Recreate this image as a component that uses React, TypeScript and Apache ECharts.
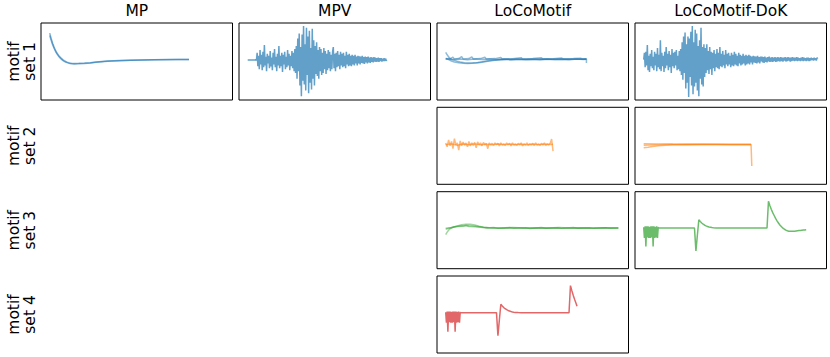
import React, { useEffect, useRef } from "react";
import * as echarts from "echarts";

const columnTitles = ["MP", "MPV", "LoCoMotif", "LoCoMotif-DoK"];
const rowLabels = ["motif\nset 1", "motif\nset 2", "motif\nset 3", "motif\nset 4"];

// ---- motif set 1 ----
const mpA = [[0,2.95],[1,2.4],[2,1.9],[3,1.5],[4,1.15],[5,0.88],[6,0.66],[7,0.48],[8,0.33],[9,0.2],[10,0.09],[11,0.0],[12,-0.07],[13,-0.12],[14,-0.16],[15,-0.19],[17,-0.2],[20,-0.19],[24,-0.16],[28,-0.12],[32,-0.06],[36,0.0],[40,0.05],[48,0.1],[56,0.14],[64,0.16],[72,0.18],[80,0.2],[88,0.21],[96,0.22]];
const mpB = [[0,2.7],[1,2.2],[2,1.75],[3,1.38],[4,1.06],[5,0.8],[6,0.58],[7,0.4],[8,0.25],[9,0.12],[10,0.02],[11,-0.06],[12,-0.12],[13,-0.17],[14,-0.21],[15,-0.23],[17,-0.25],[20,-0.24],[24,-0.2],[28,-0.15],[32,-0.09],[36,-0.03],[40,0.02],[48,0.08],[56,0.12],[64,0.15],[72,0.17],[80,0.18],[88,0.2],[96,0.2]];

// sampled every half step
const mpv = [
  0.15,0.15,0.15,0.15,0.15,0.15,0.15,0.15,0.15,0.15,0.15,0.2,0.1,
  0.9,-0.5,0.6,-0.8,1.2,-0.3,0.7,-0.9,1.0,-0.6,
  1.7,-0.4,0.5,-1.0,0.8,-0.2,0.6,-0.7,1.1,-0.5,
  0.4,-0.9,0.9,-0.3,1.3,-0.6,0.5,-1.0,0.8,-0.4,
  1.6,-0.7,0.6,-0.5,0.9,-1.1,0.7,-0.3,1.0,-0.8,
  0.5,-0.6,1.2,-0.4,0.8,-0.9,0.6,-0.5,1.1,-0.7,
  0.9,-1.0,1.3,
  -1.2,1.6,-1.8,2.4,-1.0,2.9,-2.5,1.5,-3.6,2.8,
  -2.0,3.7,-2.4,1.8,-3.0,3.5,-1.4,2.6,-3.3,3.2,
  -2.2,1.4,-2.9,3.4,-1.8,2.2,-2.5,1.6,-1.3,2.0,
  -1.5,1.2,-1.8,1.5,-1.0,1.3,-1.4,0.9,-1.2,1.4,
  -0.8,1.1,-1.3,0.8,-0.9,1.2,-0.7,1.0,-1.0,0.7,
  -0.8,1.0,
  1.5,-0.7,0.8,-1.0,0.9,-0.6,1.1,-0.5,0.7,-0.8,
  1.0,-0.4,0.8,-0.6,0.9,-0.5,0.6,-0.7,1.0,-0.3,
  0.7,-0.5,0.8,-0.4,0.6,-0.5,0.7,-0.3,0.6,-0.4,
  0.7,-0.2,0.5,-0.4,0.6,-0.2,0.55,-0.3,0.5,-0.15,
  0.6,-0.2,0.45,-0.25,0.5,-0.1,0.45,-0.2,0.5,-0.1,
  0.4,-0.15,0.45,-0.05,0.4,-0.1,0.45,0.0,0.4,-0.05,
  0.35,0.0,0.4,-0.05,0.35,0.05,0.35,0.0,0.3,0.05,
  0.35,0.05,0.3,0.1,0.15
];

const lcA = [[0,0.95],[1,0.7],[2,0.48],[3,0.32],[4,0.22],[6,0.12],[8,0.02],[10,-0.06],[13,-0.12],[16,-0.15],[19,-0.14],[22,-0.1],[25,-0.03],[28,0.05],[32,0.12],[36,0.17],[42,0.2],[50,0.22],[60,0.21],[70,0.23],[80,0.22],[90,0.24],[97,0.23]];
const lcB = [[0,0.3],[2,0.2],[4,0.05],[6,-0.05],[9,-0.13],[12,-0.18],[15,-0.2],[18,-0.19],[21,-0.15],[24,-0.1],[27,-0.02],[30,0.06],[34,0.14],[40,0.2],[48,0.24],[56,0.22],[64,0.26],[72,0.23],[80,0.27],[88,0.24],[97,0.26],[97,-0.15]];
const lcC = [[0,0.3],[3,0.28],[5,0.45],[6,0.25],[9,0.3],[11,0.5],[12,0.27],[16,0.3],[18,0.48],[19,0.26],[24,0.3],[27,0.45],[28,0.27],[34,0.3],[38,0.42],[39,0.26],[46,0.29],[52,0.4],[53,0.26],[60,0.3],[66,0.38],[67,0.25],[74,0.29],[80,0.36],[81,0.26],[88,0.3],[93,0.35],[94,0.26],[97,0.28]];
const lcD = [[0,0.25],[5,0.2],[10,0.25],[15,0.18],[20,0.26],[25,0.2],[30,0.27],[35,0.2],[40,0.25],[45,0.19],[50,0.26],[55,0.2],[60,0.24],[65,0.19],[70,0.26],[75,0.2],[80,0.24],[85,0.18],[90,0.25],[95,0.2],[97,0.24]];

// sampled every half step
const dok1 = [
  0.2,0.9,-0.6,1.0,-0.4,1.7,-0.9,0.6,-1.1,0.8,
  -0.5,1.2,-0.7,0.5,-0.9,1.0,-0.4,0.8,-1.0,1.4,
  -0.6,0.7,-0.8,2.2,-1.0,0.9,-0.5,0.6,-1.1,1.0,
  -0.7,1.5,-0.4,0.8,-0.9,1.1,-0.6,0.7,-1.2,1.3,
  -0.5,0.9,-0.7,1.0,-0.4,1.2,-0.9,0.6,-0.8,1.1,
  -1.0,1.3,
  -1.4,2.0,-1.9,2.6,-1.2,3.0,-2.8,1.8,-2.2,2.6,
  -3.7,2.4,-1.6,3.1,-2.5,3.7,-3.4,2.0,-2.6,3.3,
  -2.2,2.9,-3.0,1.6,-3.6,2.2,-1.8,3.5,-2.4,1.5,
  -2.6,1.8,
  -1.6,1.4,-1.2,1.8,-0.9,1.1,-1.3,1.5,-0.8,1.0,
  -1.4,0.9,-0.7,1.2,-1.0,0.8,-0.6,1.3,
  -0.7,0.9,-0.8,1.5,-0.5,0.8,-0.6,1.1,-0.4,0.7,
  -0.7,1.2,-0.3,0.8,-0.5,0.9,-0.3,0.6,-0.6,0.9,
  -0.4,0.7,-0.5,1.0,-0.3,0.8,-0.4,0.6,-0.5,0.9,
  -0.2,0.7,-0.4,0.6,-0.3,0.8,-0.2,0.6,-0.4,0.7,
  -0.3,0.6,-0.2,0.7,
  -0.3,0.6,-0.1,0.5,-0.3,0.6,-0.1,0.55,-0.15,0.5,
  -0.2,0.6,-0.1,0.45,-0.2,0.5,0.0,0.5,-0.1,0.45,
  -0.15,0.5,-0.05,0.4,-0.1,0.45,0.0,0.5,-0.05,0.4,
  0.0,0.45,-0.05,0.4,0.05,0.45,-0.05,0.4,0.0,0.45,
  0.05,0.4,0.0,0.45,0.05,0.4,0.0,0.4,0.1,0.45,
  0.0,0.4,0.05,0.45,0.1,0.4,0.0,0.4,0.05,0.45,
  0.1,0.4,0.05,0.4,0.1,0.45,0.05,0.4,0.1,0.35,
  0.05,0.4,0.1,0.45,0.05,0.4,0.1,0.35,0.05,0.4,
  0.1,0.4,0.05,0.35,0.1,0.4,0.15,0.35,0.1,0.4,
  0.15,0.35,0.1,0.4,0.3
];

// ---- motif set 2 ----
const r2a = [
  0.3,-0.1,0.6,0.0,0.45,-0.3,0.75,0.1,0.3,-0.45,0.5,0.0,0.4,0.05,0.3,-0.1,0.45,0.0,0.3,0.05,
  0.35,-0.2,0.4,0.1,0.3,0.0,0.35,0.1,0.25,-0.3,0.3,0.1,0.25,0.05,0.3,0.1,0.25,0.0,0.3,0.1,
  0.2,0.05,0.3,0.1,0.25,0.0,0.3,0.1,0.2,0.05,0.25,0.1,0.3,0.0,0.2,0.1,0.3,0.05,0.2,0.1,
  0.25,0.05,0.3,0.1,0.2,0.05,0.25,0.1,0.3,0.05,0.2,0.1,0.25,0.7,-0.55
];
const r2b = [[0,0.1],[4,0.2],[8,0.05],[12,0.18],[16,0.1],[20,0.2],[24,0.12],[28,0.16],[32,0.1],[36,0.18],[40,0.12],[44,0.17],[48,0.11],[52,0.16],[56,0.12],[60,0.17],[64,0.12],[68,0.16],[72,0.13],[74,0.15]];
const dok2a = [[0,0.22],[10,0.2],[20,0.18],[30,0.17],[40,0.16],[50,0.15],[60,0.14],[74,0.13],[74.5,-2.1]];
const dok2b = [[0,-0.2],[3,-0.15],[6,-0.08],[10,0.0],[15,0.06],[20,0.1],[30,0.12],[40,0.13],[50,0.13],[60,0.13],[74,0.13]];
const dok2c = [[0,0.05],[8,0.1],[16,0.14],[30,0.15],[50,0.14],[74,0.14]];

// ---- motif set 3 ----
const g3a = [[0,-0.47],[1,-0.2],[2,0.0],[3,0.15],[5,0.3],[8,0.45],[11,0.56],[14,0.63],[17,0.62],[20,0.54],[23,0.42],[26,0.32],[29,0.26],[34,0.23],[40,0.21],[50,0.23],[60,0.2],[70,0.23],[80,0.21],[90,0.24],[100,0.21],[110,0.23],[119,0.22]];
const g3b = [[0,0.1],[3,0.22],[6,0.35],[10,0.44],[14,0.48],[18,0.46],[22,0.38],[26,0.3],[30,0.26],[38,0.24],[46,0.27],[54,0.23],[62,0.26],[70,0.22],[78,0.27],[86,0.23],[94,0.26],[102,0.22],[110,0.26],[119,0.24]];
const g3c = [[0,0.2],[4,0.28],[8,0.38],[12,0.4],[14,0.5],[16,0.38],[20,0.35],[24,0.3],[28,0.22],[33,0.28],[36,0.2],[44,0.27],[47,0.19],[55,0.26],[58,0.18],[66,0.27],[69,0.2],[77,0.26],[80,0.19],[88,0.27],[91,0.2],[99,0.26],[102,0.19],[110,0.25],[113,0.2],[119,0.23]];

// noisy start block, sampled every half step
const g3Block = [0.3,-0.8,0.4,-1.7,0.4,-0.75,0.4,-0.8,0.35,-0.8,0.4,-0.75,0.4,-1.7,0.4,-0.8,0.35,-0.75,0.4,-0.8,0.3];
const g3Rest = [[10.5,0.23],[35,0.23],[36,-2.15],[37,-0.5],[38,1.08],[39,0.9],[40,0.75],[41,0.62],[42,0.52],[43,0.45],[44,0.39],[45,0.34],[46,0.31],[47,0.28],[48,0.26],[50,0.24],[52,0.23],[85,0.23],[86,3.0],[87,2.55],[88,2.15],[89,1.8],[90,1.5],[91,1.2],[92,0.95],[93,0.72],[94,0.52],[95,0.36],[96,0.22],[97,0.1],[98,0.01],[99,-0.06],[100,-0.1],[101,-0.12],[102,-0.12],[103,-0.11],[104,-0.1],[105,-0.08],[106,-0.06],[107,-0.04],[108,-0.02],[109,0.0],[110,0.02],[111,0.03],[112,0.05]];

// ---- motif set 4 ----
const r4Block = [0.25,-0.85,0.3,-1.8,0.3,-0.8,0.3,-0.85,0.28,-0.85,0.3,-0.8,0.3,-1.8,0.3,-0.85,0.28,-0.8,0.3,-0.85,0.2];
const r4Rest = [[10.5,0.19],[35,0.19],[36,-2.2],[37,-0.55],[38,1.06],[39,0.88],[40,0.72],[41,0.6],[42,0.5],[43,0.42],[44,0.36],[45,0.31],[46,0.27],[47,0.24],[48,0.22],[50,0.2],[52,0.19],[85,0.19],[86,3.0],[87,2.45],[88,1.95],[89,1.5],[90,1.1],[90.5,0.85]];

const idx = (arr: number[]) => arr.map((v, i) => [i, v]);
const half = (arr: number[]) => arr.map((v, i) => [i * 0.5, v]);

const BLUE = "#1f77b4", ORANGE = "#ff7f0e", GREEN = "#2ca02c", RED = "#d62728";

const panels = [
  { row: 0, col: 0, color: BLUE, alpha: 0.55, lines: [mpA, mpB] },
  { row: 0, col: 1, color: BLUE, alpha: 0.7, lines: [half(mpv)] },
  { row: 0, col: 2, color: BLUE, alpha: 0.5, lines: [lcA, lcB, lcC, lcD] },
  { row: 0, col: 3, color: BLUE, alpha: 0.7, lines: [half(dok1)] },
  { row: 1, col: 2, color: ORANGE, alpha: 0.55, lines: [idx(r2a), r2b] },
  { row: 1, col: 3, color: ORANGE, alpha: 0.55, lines: [dok2a, dok2b, dok2c] },
  { row: 2, col: 2, color: GREEN, alpha: 0.45, lines: [g3a, g3b, g3c] },
  { row: 2, col: 3, color: GREEN, alpha: 0.7, lines: [[...half(g3Block), ...g3Rest]] },
  { row: 3, col: 2, color: RED, alpha: 0.7, lines: [[...half(r4Block), ...r4Rest]] },
];

const LEFTS = [41, 239, 437, 635];
const TOPS = [23, 107.3, 191.7, 276];
const W = 191.5;
const H = 77;
const FONT = "DejaVu Sans";

export default function App() {
  const ref = useRef<HTMLDivElement>(null);
  useEffect(() => {
    if (!ref.current) return;
    const chart = echarts.init(ref.current, undefined, { renderer: "svg" });
    const grid: any[] = [];
    const xAxis: any[] = [];
    const yAxis: any[] = [];
    const series: any[] = [];
    panels.forEach((p, k) => {
      grid.push({
        left: LEFTS[p.col], top: TOPS[p.row], width: W, height: H,
        show: true, borderColor: "#000", borderWidth: 1, backgroundColor: "#fff",
      });
      xAxis.push({ type: "value", gridIndex: k, min: -6, max: 126, show: false });
      yAxis.push({ type: "value", gridIndex: k, min: -4, max: 4, show: false });
      p.lines.forEach((d) => {
        series.push({
          type: "line", xAxisIndex: k, yAxisIndex: k, data: d,
          symbol: "none", showSymbol: false, silent: true,
          lineStyle: { color: p.color, width: 1.5, opacity: p.alpha },
        });
      });
    });
    const graphic: any[] = [];
    columnTitles.forEach((t, c) => {
      graphic.push({
        type: "text", x: LEFTS[c] + W / 2, y: 10.5,
        style: { text: t, fill: "#000", font: `15.5px "${FONT}"`, textAlign: "center", textVerticalAlign: "middle", align: "center", verticalAlign: "middle" },
      });
    });
    rowLabels.forEach((t, r) => {
      graphic.push({
        type: "text", x: 22, y: TOPS[r] + H / 2, rotation: Math.PI / 2,
        style: { text: t, fill: "#000", font: `15.5px "${FONT}"`, lineHeight: 16, textAlign: "center", textVerticalAlign: "middle", align: "center", verticalAlign: "middle" },
      });
    });
    chart.setOption({
      animation: false,
      backgroundColor: "#fff",
      grid, xAxis, yAxis, series, graphic,
    });
    return () => chart.dispose();
  }, []);
  return <div ref={ref} style={{ position: "fixed", left: 0, top: 0, width: 830, height: 357, background: "#fff" }} />;
}
